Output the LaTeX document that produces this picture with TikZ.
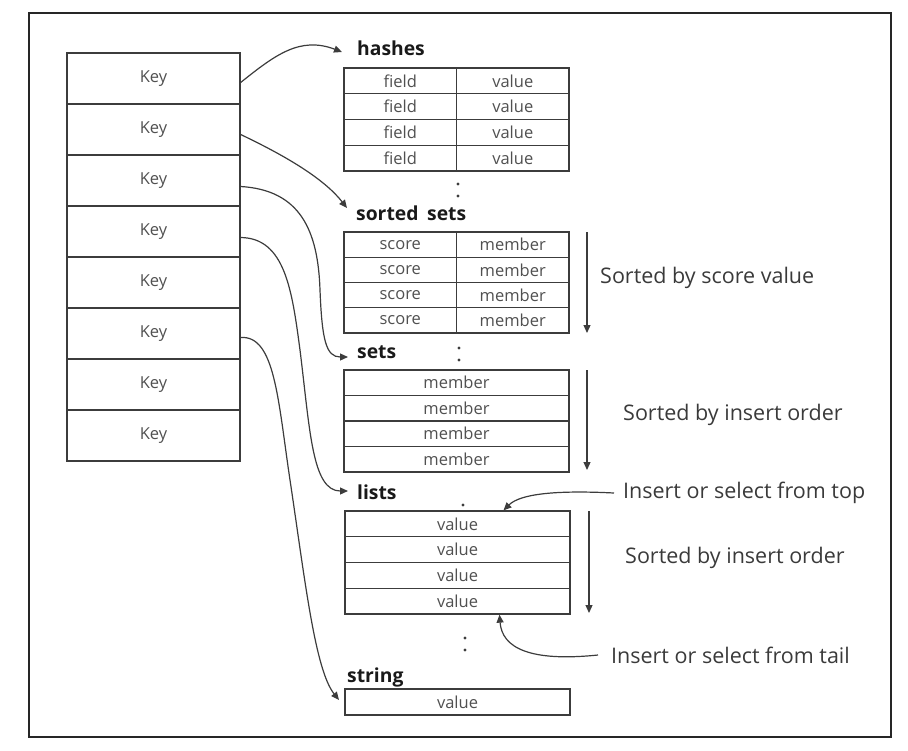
\documentclass[tikz,border=0pt]{standalone}
\usepackage{fontspec}
\setmainfont{Open Sans}
\usetikzlibrary{arrows.meta}
\definecolor{linec}{HTML}{3C3C3C}
\definecolor{txtc}{HTML}{505050}
\definecolor{sidec}{HTML}{3A3A3A}
\begin{document}
\begin{tikzpicture}[x=1pt,y=-1pt,
  cell/.style={draw=linec, line width=1.3pt, inner sep=0pt, font=\fontsize{16.5}{16.5}\selectfont, text=txtc},
  keycell/.style={cell, minimum width=173pt, minimum height=51pt},
  half/.style={cell, minimum width=112.5pt},
  full/.style={cell, minimum width=225pt},
  lbl/.style={anchor=west, inner sep=0pt, font=\fontsize{19.3}{19.3}\selectfont\bfseries, text=black!90},
  side/.style={anchor=west, inner sep=0pt, font=\fontsize{21.5}{21.5}\selectfont, text=sidec},
  conn/.style={draw=linec, line width=1.2pt, -{Triangle[length=8pt,width=7pt]}},
  dotc/.style={circle, fill=linec, inner sep=0pt, minimum size=3.2pt}
]
\useasboundingbox (0,0) rectangle (908,750);
\draw[line width=2.5pt, draw=black!85] (29,13) rectangle (891,737);

% key column
\foreach \i in {1,...,8}
  \node[keycell] (k\i) at (153.5, {53+25.5+51*(\i-1)}) {Key};

% hashes
\node[lbl] (lhash) at (357,48) {hashes};
\foreach \i in {1,...,4} {
  \node[half, minimum height=25.75pt] (hf\i) at (400.25, {68+12.875+25.75*(\i-1)}) {field};
  \node[half, minimum height=25.75pt] (hv\i) at (512.75, {68+12.875+25.75*(\i-1)}) {value};
}
\node[dotc] (d1) at (458,184) {};
\node[dotc] (d2) at (458,196) {};

% sorted sets
\node[lbl] (lsorted) at (356,213) {sorted\hspace{0.45em}sets};
\foreach \i in {1,...,4} {
  \node[half, minimum height=25.25pt] (ss\i) at (400.25, {232+12.625+25.25*(\i-1)}) {score};
  \node[half, minimum height=25.25pt] (sm\i) at (512.75, {232+12.625+25.25*(\i-1)}) {member};
}
\node[dotc] (d3) at (459,348) {};
\node[dotc] (d4) at (459,360) {};

% sets
\node[lbl] (lsets) at (357,352) {sets};
\foreach \i in {1,...,4}
  \node[full, minimum height=25.5pt] (st\i) at (456.5, {370+12.75+25.5*(\i-1)}) {member};

% lists
\node[lbl] (llists) at (357,492) {lists};
\node[dotc] (d5) at (463,505) {};
\foreach \i in {1,...,4}
  \node[full, minimum height=25.75pt] (lv\i) at (457.5, {511+12.875+25.75*(\i-1)}) {value};
\node[dotc] (d6) at (465,638) {};
\node[dotc] (d7) at (465,650) {};

% string
\node[lbl] (lstring) at (347,677) {string};
\node[full, minimum height=26pt] (sv) at (457.5,702) {value};

% side texts
\node[side] (t1) at (600,278) {Sorted by score value};
\node[side] (t2) at (623,415) {Sorted by insert order};
\node[side] (t3) at (623,493) {Insert or select from top};
\node[side] (t4) at (625,558) {Sorted by insert order};
\node[side] (t5) at (611,655) {Insert or select from tail};

% vertical order arrows
\coordinate (a1s) at (587,232); \coordinate (a1e) at (587,333);
\coordinate (a2s) at (587,370); \coordinate (a2e) at (587,470);
\coordinate (a3s) at (589,511); \coordinate (a3e) at (589,613);
\draw[conn] (a1s) -- (a1e);
\draw[conn] (a2s) -- (a2e);
\draw[conn] (a3s) -- (a3e);

% key connectors
\coordinate (h1) at (342,52);
\coordinate (h2) at (347,208);
\coordinate (h3) at (348,357);
\coordinate (h4) at (348,491);
\coordinate (h6) at (339,700);
\draw[conn] ([yshift=-4pt]k1.east) .. controls (275,55) and (300,36) .. (h1);
\draw[conn] ([yshift=-5pt]k2.east) .. controls (290,158) and (325,180) .. (h2);
\draw[conn] ([yshift=-6pt]k3.east) .. controls (300,190) and (318,230) .. (320,290) .. controls (322,340) and (326,357) .. (h3);
\draw[conn] ([yshift=-6pt]k4.east) .. controls (285,238) and (292,290) .. (300,350) .. controls (310,430) and (312,491) .. (h4);
\draw[conn] ([yshift=-4pt]k6.east) .. controls (275,335) and (278,400) .. (290,480) .. controls (305,580) and (315,670) .. (h6);

% list insert/select curves
\draw[conn] ([xshift=-9pt]t3.west) .. controls (555,490) and (520,494) .. ([xshift=46pt]lv1.north);
\draw[conn] ([xshift=-13pt]t5.west) .. controls (530,662) and (502,648) .. ([xshift=42pt]lv4.south);
\end{tikzpicture}
\end{document}
